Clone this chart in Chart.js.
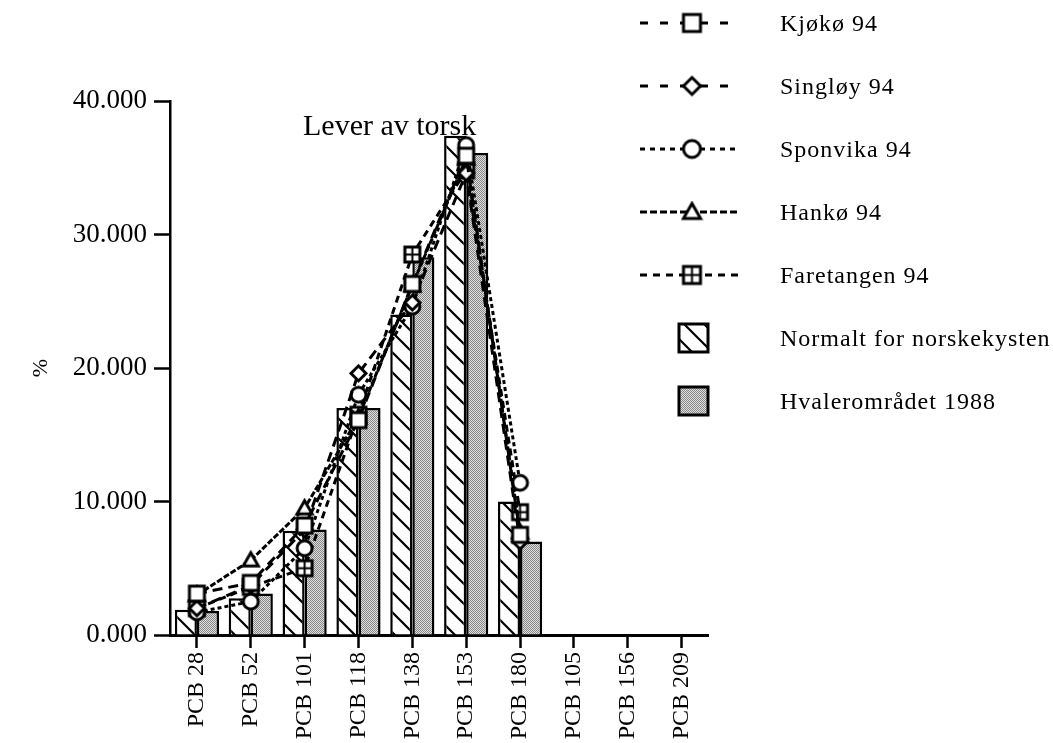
<!DOCTYPE html>
<html>
<head>
<meta charset="utf-8">
<script src="https://cdn.jsdelivr.net/npm/chart.js@4.4.0/dist/chart.umd.min.js"></script>
<style>
  html, body { margin: 0; padding: 0; background: #fff; }
</style>
</head>
<body>
<canvas id="chart" width="1053" height="743"></canvas>
<script>
// categories and values (percent of sum PCB)
const categories = ['PCB 28', 'PCB 52', 'PCB 101', 'PCB 118', 'PCB 138', 'PCB 153', 'PCB 180', 'PCB 105', 'PCB 156', 'PCB 209']
const normalt = [1.9, 2.75, 7.8, 17.0, 24.0, 37.4, 10.0, null, null, null]
const hvaler = [1.8, 3.1, 7.9, 17.0, 28.3, 36.1, 7.0, null, null, null]
const kjoko = [3.1, 3.9, 8.2, 16.1, 26.3, 35.9, 7.5, null, null, null]
const singloy = [2.0, 3.7, 7.9, 19.6, 24.9, 34.6, 7.0, null, null, null]
const sponvika = [1.7, 2.5, 6.5, 18.0, 24.6, 36.7, 11.4, null, null, null]
const hanko = [3.0, 5.6, 9.5, 16.3, 26.2, 35.7, 7.7, null, null, null]
const faretangen = [2.0, 3.6, 5.0, 16.5, 28.5, 34.8, 9.2, null, null, null]
const yTicks = [0, 10, 20, 30, 40]

const SERIF = '"Liberation Serif", "DejaVu Serif", serif'
const canvas = document.getElementById('chart')
const ctx = canvas.getContext('2d')

function marker(kind, size, lw) {
  const pad = 3
  const c = document.createElement('canvas')
  c.width = c.height = Math.ceil(size + pad * 2)
  const g = c.getContext('2d')
  const m = c.width / 2
  const h = size / 2
  g.lineWidth = lw
  g.strokeStyle = '#000'
  g.fillStyle = '#fff'
  g.beginPath()
  if (kind === 'square' || kind === 'grid') {
    g.rect(m - h, m - h, size, size)
  } else if (kind === 'diamond') {
    g.moveTo(m, m - h); g.lineTo(m + h, m); g.lineTo(m, m + h); g.lineTo(m - h, m); g.closePath()
  } else if (kind === 'circle') {
    g.arc(m, m, h, 0, Math.PI * 2)
  } else if (kind === 'triangle') {
    g.moveTo(m, m - h); g.lineTo(m + h, m + h * 0.75); g.lineTo(m - h, m + h * 0.75); g.closePath()
  }
  g.fill()
  g.stroke()
  if (kind === 'grid') {
    g.lineWidth = 2
    g.beginPath()
    g.moveTo(m, m - h); g.lineTo(m, m + h)
    g.moveTo(m - h, m); g.lineTo(m + h, m)
    g.stroke()
  }
  return c
}

function hatchPattern() {
  const s = 20
  const c = document.createElement('canvas')
  c.width = c.height = s
  const g = c.getContext('2d')
  g.fillStyle = '#fff'
  g.fillRect(0, 0, s, s)
  g.strokeStyle = '#000'
  g.lineWidth = 2.2
  g.beginPath()
  g.moveTo(-2, -2); g.lineTo(s + 2, s + 2)
  g.moveTo(-2, s - 2); g.lineTo(2, s + 2)
  g.moveTo(s - 2, -2); g.lineTo(s + 2, 2)
  g.stroke()
  return ctx.createPattern(c, 'repeat')
}

function stipplePattern() {
  const c = document.createElement('canvas')
  c.width = c.height = 2
  const g = c.getContext('2d')
  g.fillStyle = '#dedede'
  g.fillRect(0, 0, 2, 2)
  g.fillStyle = '#888'
  g.fillRect(0, 0, 1, 1)
  g.fillRect(1, 1, 1, 1)
  return ctx.createPattern(c, 'repeat')
}

const hatch = hatchPattern()
const stipple = stipplePattern()

const lineSeries = [
  { name: 'Kjøkø 94', data: kjoko, kind: 'square', dash: [10, 6], legendDash: [8, 12] },
  { name: 'Singløy 94', data: singloy, kind: 'diamond', dash: [10, 6], legendDash: [8, 12] },
  { name: 'Sponvika 94', data: sponvika, kind: 'circle', dash: [4, 3], legendDash: [5, 5] },
  { name: 'Hankø 94', data: hanko, kind: 'triangle', dash: [6, 2], legendDash: [7, 3] },
  { name: 'Faretangen 94', data: faretangen, kind: 'grid', dash: [7, 5], legendDash: [7, 6] },
]
const barSeries = [
  { name: 'Normalt for norskekysten', data: normalt, fill: hatch },
  { name: 'Hvalerområdet 1988', data: hvaler, fill: stipple },
]

// title inside the plot and the legend block on the right
const overlay = {
  id: 'overlay',
  afterDraw(chart) {
    const c = chart.ctx
    const area = chart.chartArea
    c.save()
    c.fillStyle = '#000'
    c.font = '30px ' + SERIF
    c.textBaseline = 'alphabetic'
    c.textAlign = 'left'
    c.fillText('Lever av torsk', area.left + 133, area.top + 34)

    const x0 = chart.width - 413
    const rowH = 63
    let y = 23
    c.font = '24px ' + SERIF
    c.letterSpacing = '1px'
    lineSeries.forEach((s) => {
      c.strokeStyle = '#000'
      c.lineWidth = 3
      c.setLineDash(s.legendDash)
      c.beginPath()
      c.moveTo(x0, y)
      c.lineTo(x0 + 100, y)
      c.stroke()
      c.setLineDash([])
      const img = marker(s.kind, 17, 3)
      c.drawImage(img, x0 + 52 - img.width / 2, y - img.height / 2)
      c.fillText(s.name, x0 + 140, y + 8)
      y += rowH
    })
    barSeries.forEach((s) => {
      c.fillStyle = s.fill
      c.fillRect(x0 + 39, y - 14, 29, 28)
      c.strokeStyle = '#000'
      c.lineWidth = 3
      c.strokeRect(x0 + 39, y - 14, 29, 28)
      c.fillStyle = '#000'
      c.fillText(s.name, x0 + 140, y + 8)
      y += rowH
    })
    c.restore()
  },
}

new Chart(ctx, {
  type: 'bar',
  data: {
    labels: categories,
    datasets: [
      ...barSeries.map((s) => ({
        type: 'bar',
        label: s.name,
        data: s.data,
        backgroundColor: s.fill,
        borderColor: '#000',
        borderWidth: 2.5,
        categoryPercentage: 0.82,
        barPercentage: 1,
        order: 10,
      })),
      ...lineSeries.map((s) => ({
        type: 'line',
        label: s.name,
        data: s.data,
        borderColor: '#000',
        borderWidth: 3,
        borderDash: s.dash,
        fill: false,
        tension: 0,
        pointStyle: marker(s.kind, 15, 3),
        pointRadius: 7,
        order: 1,
      })),
    ],
  },
  options: {
    responsive: false,
    animation: false,
    layout: { padding: { left: 0, top: 101, right: 344.5, bottom: 0 } },
    plugins: {
      legend: { display: false },
      tooltip: { enabled: false },
    },
    scales: {
      x: {
        offset: true,
        grid: { offset: false, drawOnChartArea: false, tickLength: 13, tickWidth: 2.5, color: '#000' },
        border: { color: '#000', width: 3 },
        ticks: {
          autoSkip: false,
          minRotation: 90,
          maxRotation: 90,
          padding: 4,
          color: '#000',
          font: { family: SERIF, size: 24 },
        },
        afterFit: (scale) => { scale.height = 108 },
      },
      y: {
        min: 0,
        max: 40,
        afterBuildTicks: (scale) => { scale.ticks = yTicks.map((v) => ({ value: v })) },
        ticks: {
          padding: 7,
          color: '#000',
          font: { family: SERIF, size: 27 },
          callback: (v) => Number(v).toFixed(3),
        },
        grid: { drawOnChartArea: false, tickLength: 16, tickWidth: 2.5, color: '#000' },
        border: { color: '#000', width: 2.5 },
        title: {
          display: true,
          text: '%',
          color: '#000',
          font: { family: SERIF, size: 22 },
          padding: { top: 28, bottom: 0 },
        },
        afterFit: (scale) => { scale.width = 170 },
      },
    },
  },
  plugins: [overlay],
})
</script>
</body>
</html>
